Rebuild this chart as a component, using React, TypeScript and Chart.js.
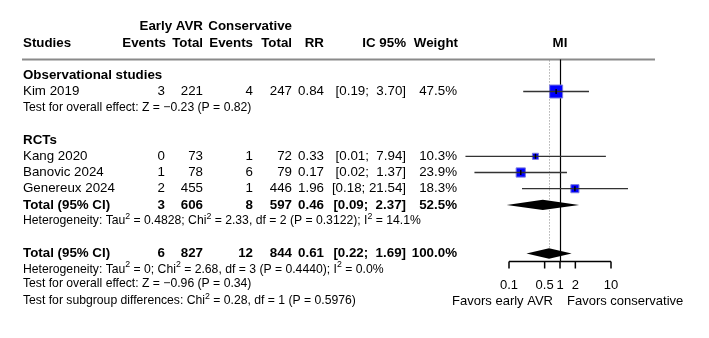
import React, { useEffect, useRef } from "react";
import { Chart, registerables } from "chart.js";
Chart.register(...registerables);

// ---------- data ----------
const studies = ["Kim 2019", "Kang 2020", "Banovic 2024", "Genereux 2024"];
const eventsEarly = [3, 0, 1, 2];
const totalEarly = [221, 73, 78, 455];
const eventsCons = [4, 1, 6, 1];
const totalCons = [247, 72, 79, 446];
const rr = [0.84, 0.33, 0.17, 1.96];
const ciLow = [0.19, 0.014, 0.021, 0.18];
const ciHigh = [3.7, 7.94, 1.37, 21.54];
const weights = [47.5, 10.3, 23.9, 18.3];

const subgroupLabels = ["Observational studies", "RCTs"];
const pooledLabels = ["Total (95% CI)", "Total (95% CI)"];
const pooledEventsEarly = [3, 6];
const pooledTotalEarly = [606, 827];
const pooledEventsCons = [8, 12];
const pooledTotalCons = [597, 844];
const pooledRR = [0.46, 0.61];
const pooledLow = [0.09, 0.22];
const pooledHigh = [2.37, 1.69];
const pooledWeight = [52.5, 100.0];

const axisTicks = [0.1, 0.5, 1, 2, 10];
const favorLabels = ["Favors early AVR", "Favors conservative"];
const headerGroups = ["Early AVR", "Conservative"];
const headerCols = ["Studies", "Events", "Total", "Events", "Total", "RR", "IC 95%", "Weight", "MI"];
const statLines = [
  "Test for overall effect: Z = \u22120.23 (P = 0.82)",
  "Heterogeneity: Tau^2 = 0.4828; Chi^2 = 2.33, df = 2 (P = 0.3122); I^2 = 14.1%",
  "Heterogeneity: Tau^2 = 0; Chi^2 = 2.68, df = 3 (P = 0.4440); I^2 = 0.0%",
  "Test for overall effect: Z = \u22120.96 (P = 0.34)",
  "Test for subgroup differences: Chi^2 = 0.28, df = 1 (P = 0.5976)",
];

// ---------- layout (rows) ----------
const studyRow = [4, 8, 9, 10];
const subgroupRow = [3, 7];
const pooledRow = [11, 14];
const statRow = [5, 12, 15, 15.88, 16.93];
const headerRows = [0, 1];
const headerLineRow = 2.02;
const axisRow = 14.5;
const tickLabelRow = 15.94;
const favorRow = 16.93;

const FONT = "'Liberation Sans', Arial, Helvetica, sans-serif";
const MAIN = 13.33;
const SMALL = 12.2;

const colX = { name: 23, eE: 165, nE: 203, eC: 253, nC: 292, rr: 324, ci: 406, w: 457 };
const headerX = [23, 166, 203, 253, 292, 324, 406, 458];

function fmtCI(lo: number, hi: number) {
  return "[" + lo.toFixed(2) + "; " + hi.toFixed(2).padStart(5, " ") + "]";
}

function drawRich(ctx: CanvasRenderingContext2D, text: string, x: number, y: number, size: number) {
  const parts = text.split(/\^(\d)/);
  let cx = x;
  parts.forEach((p, i) => {
    ctx.textBaseline = "middle";
    ctx.textAlign = "left";
    if (i % 2 === 0) {
      ctx.font = `${size}px ${FONT}`;
      ctx.fillText(p, cx, y);
      cx += ctx.measureText(p).width;
    } else {
      ctx.font = `${size * 0.72}px ${FONT}`;
      ctx.fillText(p, cx, y - size * 0.38);
      cx += ctx.measureText(p).width;
    }
  });
}

function squareSide(w: number) {
  return 13 * Math.sqrt(w / 47.5);
}

const forestPlugin = {
  id: "forest",
  beforeDatasetsDraw(chart: any) {
    const { ctx, scales } = chart;
    const xs = scales.x;
    const ys = scales.y;
    ctx.save();
    ctx.strokeStyle = "#8a8a8a";
    ctx.lineWidth = 2;
    ctx.beginPath();
    ctx.moveTo(22, ys.getPixelForValue(headerLineRow));
    ctx.lineTo(655, ys.getPixelForValue(headerLineRow));
    ctx.stroke();
    const xd = Math.round(xs.getPixelForValue(pooledRR[1])) + 0.5;
    ctx.strokeStyle = "#888";
    ctx.lineWidth = 1;
    ctx.setLineDash([1, 2]);
    ctx.beginPath();
    ctx.moveTo(xd, ys.getPixelForValue(headerLineRow) + 1);
    ctx.lineTo(xd, ys.getPixelForValue(pooledRow[1]) - 5);
    ctx.stroke();
    ctx.setLineDash([]);
    const x1 = Math.round(xs.getPixelForValue(1)) + 0.5;
    ctx.strokeStyle = "#000";
    ctx.lineWidth = 1.2;
    ctx.beginPath();
    ctx.moveTo(x1, ys.getPixelForValue(headerLineRow));
    ctx.lineTo(x1, ys.getPixelForValue(axisRow));
    ctx.stroke();
    ctx.restore();
  },
  afterDatasetsDraw(chart: any) {
    const { ctx, scales } = chart;
    const xs = scales.x;
    const ys = scales.y;
    ctx.save();
    ctx.strokeStyle = "#000";
    ctx.lineWidth = 1.5;
    rr.forEach((v, i) => {
      const px = xs.getPixelForValue(v);
      const py = ys.getPixelForValue(studyRow[i]);
      ctx.beginPath();
      ctx.moveTo(px, py - 2.5);
      ctx.lineTo(px, py + 2.5);
      ctx.stroke();
    });
    ctx.fillStyle = "#000";
    pooledRR.forEach((v, i) => {
      const py = ys.getPixelForValue(pooledRow[i]);
      ctx.beginPath();
      ctx.moveTo(xs.getPixelForValue(pooledLow[i]), py);
      ctx.lineTo(xs.getPixelForValue(v), py - 5.2);
      ctx.lineTo(xs.getPixelForValue(pooledHigh[i]), py);
      ctx.lineTo(xs.getPixelForValue(v), py + 5.2);
      ctx.closePath();
      ctx.fill();
    });
    const ay = ys.getPixelForValue(axisRow);
    ctx.strokeStyle = "#000";
    ctx.lineWidth = 1.5;
    ctx.beginPath();
    ctx.moveTo(xs.getPixelForValue(axisTicks[0]), ay);
    ctx.lineTo(xs.getPixelForValue(axisTicks[axisTicks.length - 1]), ay);
    axisTicks.forEach((t) => {
      const px = xs.getPixelForValue(t);
      ctx.moveTo(px, ay);
      ctx.lineTo(px, ay + 7);
    });
    ctx.stroke();
    ctx.fillStyle = "#000";
    ctx.font = `13px ${FONT}`;
    ctx.textBaseline = "middle";
    ctx.textAlign = "center";
    axisTicks.forEach((t) => {
      ctx.fillText(String(t), xs.getPixelForValue(t), ys.getPixelForValue(tickLabelRow));
    });
    const fx = xs.getPixelForValue(1);
    ctx.textAlign = "right";
    ctx.fillText(favorLabels[0], fx - 7, ys.getPixelForValue(favorRow));
    ctx.textAlign = "left";
    ctx.fillText(favorLabels[1], fx + 7, ys.getPixelForValue(favorRow));
    ctx.restore();
  },
  afterDraw(chart: any) {
    const { ctx, scales } = chart;
    const xs = scales.x;
    const ys = scales.y;
    ctx.save();
    ctx.fillStyle = "#000";
    ctx.textBaseline = "middle";
    const bold = `bold ${MAIN}px ${FONT}`;
    const reg = `${MAIN}px ${FONT}`;
    ctx.font = bold;
    ctx.textAlign = "right";
    ctx.fillText(headerGroups[0], colX.nE, ys.getPixelForValue(headerRows[0]));
    ctx.fillText(headerGroups[1], colX.nC, ys.getPixelForValue(headerRows[0]));
    const hy = ys.getPixelForValue(headerRows[1]);
    headerCols.forEach((h, i) => {
      if (i === 0) {
        ctx.textAlign = "left";
        ctx.fillText(h, headerX[0], hy);
      } else if (i === headerCols.length - 1) {
        ctx.textAlign = "center";
        ctx.fillText(h, xs.getPixelForValue(1), hy);
      } else {
        ctx.textAlign = "right";
        ctx.fillText(h, headerX[i], hy);
      }
    });
    subgroupLabels.forEach((s, i) => {
      ctx.font = bold;
      ctx.textAlign = "left";
      ctx.fillText(s, colX.name, ys.getPixelForValue(subgroupRow[i]));
    });
    const drawRow = (font: string, y: number, name: string, a: number, b: number, c: number, d: number, r: number, lo: number, hi: number, w: number) => {
      ctx.font = font;
      ctx.textAlign = "left";
      ctx.fillText(name, colX.name, y);
      ctx.textAlign = "right";
      ctx.fillText(String(a), colX.eE, y);
      ctx.fillText(String(b), colX.nE, y);
      ctx.fillText(String(c), colX.eC, y);
      ctx.fillText(String(d), colX.nC, y);
      ctx.fillText(r.toFixed(2), colX.rr, y);
      ctx.fillText(fmtCI(lo, hi), colX.ci, y);
      ctx.fillText(w.toFixed(1) + "%", colX.w, y);
    };
    studies.forEach((s, i) => {
      drawRow(reg, ys.getPixelForValue(studyRow[i]), s, eventsEarly[i], totalEarly[i], eventsCons[i], totalCons[i], rr[i], ciLow[i], ciHigh[i], weights[i]);
    });
    pooledLabels.forEach((s, i) => {
      drawRow(bold, ys.getPixelForValue(pooledRow[i]), s, pooledEventsEarly[i], pooledTotalEarly[i], pooledEventsCons[i], pooledTotalCons[i], pooledRR[i], pooledLow[i], pooledHigh[i], pooledWeight[i]);
    });
    statLines.forEach((t, i) => {
      drawRich(ctx, t, colX.name, ys.getPixelForValue(statRow[i]), SMALL);
    });
    ctx.restore();
  },
};

export default function App() {
  const ref = useRef<HTMLCanvasElement>(null);
  useEffect(() => {
    const canvas = ref.current;
    if (!canvas) return;
    const datasets: any[] = [];
    studies.forEach((s, i) => {
      datasets.push({
        type: "line",
        label: s,
        data: [
          { x: ciLow[i], y: studyRow[i] },
          { x: ciHigh[i], y: studyRow[i] },
        ],
        borderColor: "#333",
        borderWidth: 1.3,
        pointRadius: 0,
        order: 0,
      });
    });
    datasets.push({
      type: "scatter",
      label: "RR",
      data: rr.map((v, i) => ({ x: v, y: studyRow[i] })),
      pointStyle: "rect",
      pointRadius: weights.map((w) => squareSide(w) / Math.SQRT2),
      backgroundColor: "#0000ff",
      borderColor: "#7a7ae0",
      borderWidth: 1,
      order: 1,
    });
    const top = 26.7;
    const step = 16.2;
    const chart = new Chart(canvas, {
      type: "scatter",
      data: { datasets },
      options: {
        animation: false,
        responsive: false,
        devicePixelRatio: 1,
        events: [],
        layout: { autoPadding: false, padding: { left: 458, right: 47, top: 0, bottom: 0 } },
        plugins: { legend: { display: false }, tooltip: { enabled: false } },
        scales: {
          x: { type: "logarithmic", min: 0.01, max: 100, display: false, bounds: "data" },
          y: { type: "linear", min: -top / step, max: (338 - top) / step, reverse: true, display: false, bounds: "data", grace: 0 },
        },
      },
      plugins: [forestPlugin],
    } as any);
    return () => chart.destroy();
  }, []);
  return (
    <div style={{ position: "fixed", left: 0, top: 0, width: 709, height: 338, background: "#fff" }}>
      <canvas ref={ref} width={709} height={338} style={{ display: "block" }} />
    </div>
  );
}
